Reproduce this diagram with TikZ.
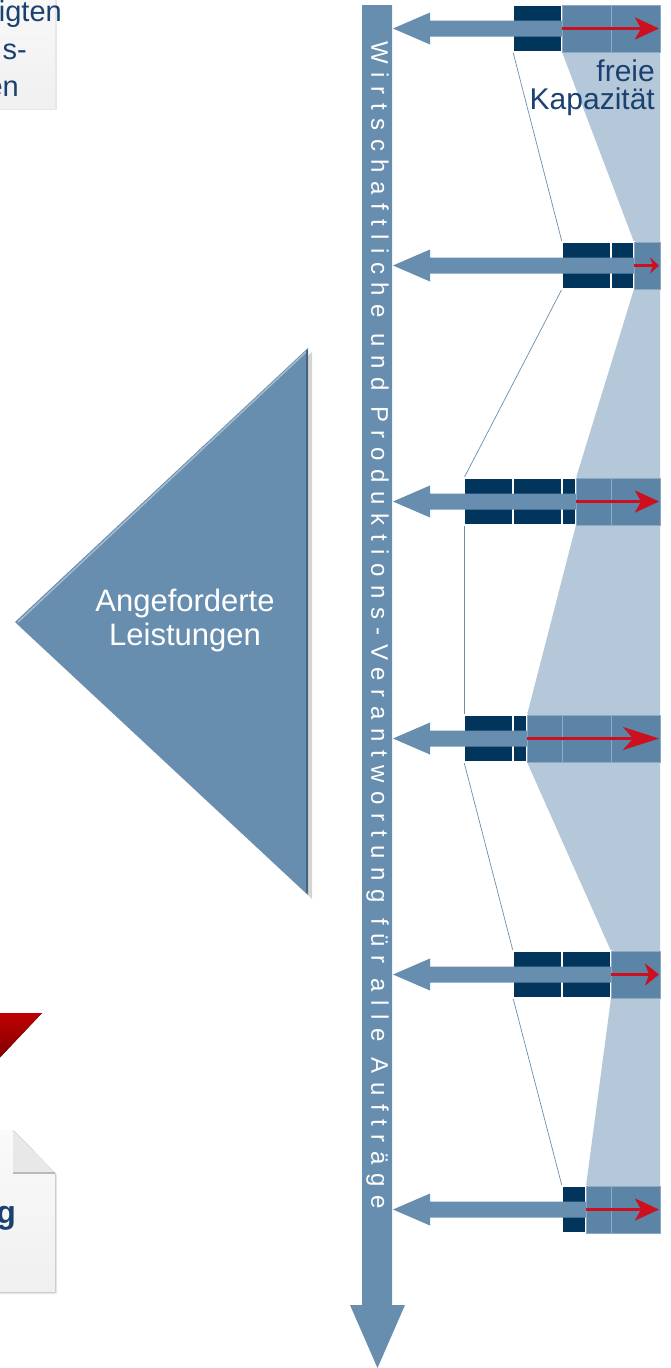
\documentclass[tikz,border=0pt]{standalone}
\usepackage{fontspec}
\setmainfont{Liberation Sans}
\newfontfamily\sperrschrift[LetterSpace=36]{Liberation Sans}
\usetikzlibrary{arrows.meta,shadows,positioning}

\definecolor{pfeilblau}{HTML}{688EAF}
\definecolor{zellblau}{HTML}{5B84A6}
\definecolor{zelllinie}{HTML}{8EAAC3}
\definecolor{dunkelblau}{HTML}{02355C}
\definecolor{hellblau}{HTML}{B5C8D9}
\definecolor{rotpfeil}{HTML}{CC1020}
\definecolor{textblau}{HTML}{1A4170}

\begin{document}
\begin{tikzpicture}[x=1pt,y=-1pt,
    belegt/.style={fill=dunkelblau, draw=white, line width=1.2pt},
    frei/.style={fill=zellblau, draw=zelllinie, line width=0.6pt},
    pfeil/.style={fill=pfeilblau},
    rotpf/.style={draw=rotpfeil, line width=3pt, -{Stealth[length=24pt,width=22pt,inset=6pt]}},
    verbindung/.style={draw=pfeilblau, line width=0.7pt},
    blatt/.style={top color=gray!4, bottom color=gray!12, drop shadow={shadow xshift=2pt, shadow yshift=-2pt, opacity=0.2}},
    doctext/.style={text=textblau, font=\fontsize{29}{34}\selectfont, inner sep=0pt},
    kaptext/.style={text=textblau, font=\fontsize{30}{28}\selectfont, inner sep=0pt}]
    \useasboundingbox (0,0) rectangle (670,1368);
    \clip (0,0) rectangle (670,1368);

    % Dokumente links (angeschnitten)
    \fill[blatt] (-20,-20) rectangle (55,108);
    \node[doctext, anchor=base east] (zeile1) at (62,21) {igten};
    \node[doctext, anchor=base east] (zeile2) at (27,59) {s-};
    \node[doctext, anchor=base east] (zeile3) at (19,96) {en};

    \fill[top color=red!75!black, bottom color=red!45!black] (-60,1013) -- (42,1013) -- (-10,1068) -- cycle;

    \fill[blatt] (-20,1130) -- (13,1130) -- (55,1173) -- (55,1292) -- (-20,1292) -- cycle;
    \fill[gray!18] (13,1130) -- (13,1173) -- (55,1173) -- cycle;
    \draw[gray!55, line width=1.5pt] (13,1173) -- (55,1173);
    \node[doctext, font=\bfseries\fontsize{32}{34}\selectfont, anchor=base east] (zeileg) at (16,1223) {g};

    % grosses Dreieck
    \fill[pfeilblau, drop shadow={shadow xshift=4pt, shadow yshift=-4pt, opacity=0.35}] (308,348) -- (308,895) -- (15,622) -- cycle;
    \draw[pfeilblau!60!white, line width=1.5pt] (306,352) -- (18,622);
    \draw[pfeilblau!70!black, line width=1.5pt] (307,350) -- (307,893);
    \node[text=white, align=center, font=\fontsize{31}{34}\selectfont] (leistungen) at (185,620) {Angeforderte\\Leistungen};

    % freie Kapazitaet
    \fill[hellblau] (562,52) -- (634,242) -- (634,289) -- (576,478) -- (576,525) -- (527,715) -- (527,762)
        -- (611,951) -- (611,998) -- (586,1186) -- (660,1186) -- (660,52) -- cycle;
    \draw[verbindung] (513,52) -- (562,242);
    \draw[verbindung] (562,289) -- (464,478);
    \draw[verbindung] (464,525) -- (464,715);
    \draw[verbindung] (464,762) -- (513,951);
    \draw[verbindung] (513,998) -- (562,1186);

    % Zeile 1
    \fill[belegt] (513,5) rectangle (562,52);
    \fill[frei] (562,5) rectangle (611,52);
    \fill[frei] (611,5) rectangle (660,52);
    \fill[pfeil] (393,28.5) -- (430,12.5) -- (430,20.5) -- (562,20.5) -- (562,36.5) -- (430,36.5) -- (430,44.5) -- cycle;
    \draw[rotpf] (562,28.5) -- (659,28.5);
    \node[kaptext, anchor=base east] (freie) at (655,81) {freie};
    \node[kaptext, anchor=base east] (kapazitaet) at ([yshift=-28pt]freie.base east) {Kapazität};

    % Zeile 2
    \fill[belegt] (562,242) rectangle (611,289);
    \fill[belegt] (611,242) rectangle (634,289);
    \fill[frei] (634,242) rectangle (660,289);
    \fill[pfeil] (393,265.5) -- (430,249.5) -- (430,257.5) -- (634,257.5) -- (634,273.5) -- (430,273.5) -- (430,281.5) -- cycle;
    \draw[rotpf, -{Stealth[length=9pt,width=16pt]}] (634,265.5) -- (659,265.5);

    % Zeile 3
    \fill[belegt] (464,478) rectangle (513,525);
    \fill[belegt] (513,478) rectangle (562,525);
    \fill[belegt] (562,478) rectangle (576,525);
    \fill[frei] (576,478) rectangle (611,525);
    \fill[frei] (611,478) rectangle (660,525);
    \fill[pfeil] (393,501.5) -- (430,485.5) -- (430,493.5) -- (576,493.5) -- (576,509.5) -- (430,509.5) -- (430,517.5) -- cycle;
    \draw[rotpf] (576,501.5) -- (659,501.5);

    % Zeile 4
    \fill[belegt] (464,715) rectangle (513,762);
    \fill[belegt] (513,715) rectangle (527,762);
    \fill[frei] (527,715) rectangle (562,762);
    \fill[frei] (562,715) rectangle (611,762);
    \fill[frei] (611,715) rectangle (660,762);
    \fill[pfeil] (393,738.5) -- (430,722.5) -- (430,730.5) -- (527,730.5) -- (527,746.5) -- (430,746.5) -- (430,754.5) -- cycle;
    \draw[rotpf, -{Stealth[length=36pt,width=23pt,inset=10pt]}] (527,738.5) -- (659,738.5);

    % Zeile 5
    \fill[belegt] (513,951) rectangle (562,998);
    \fill[belegt] (562,951) rectangle (611,998);
    \fill[frei] (611,951) rectangle (660,998);
    \fill[pfeil] (393,974.5) -- (430,958.5) -- (430,966.5) -- (611,966.5) -- (611,982.5) -- (430,982.5) -- (430,990.5) -- cycle;
    \draw[rotpf, -{Stealth[length=14pt,width=22pt,inset=4pt]}] (611,974.5) -- (659,974.5);

    % Zeile 6
    \fill[belegt] (562,1186) rectangle (586,1233);
    \fill[frei] (586,1186) rectangle (611,1233);
    \fill[frei] (611,1186) rectangle (660,1233);
    \fill[pfeil] (393,1209.5) -- (430,1193.5) -- (430,1201.5) -- (586,1201.5) -- (586,1217.5) -- (430,1217.5) -- (430,1225.5) -- cycle;
    \draw[rotpf] (586,1209.5) -- (659,1209.5);

    % senkrechter Pfeil
    \fill[pfeil] (362,5) -- (392,5) -- (392,1305) -- (405,1305) -- (377.5,1368) -- (350,1305) -- (362,1305) -- cycle;
    \node[rotate=-90, text=white, inner sep=0pt, font=\sperrschrift\fontsize{24}{24}\selectfont] (verantwortung) at (377.5,625)
        {Wirtschaftliche und Produktions-Verantwortung für alle Aufträge};
\end{tikzpicture}
\end{document}
